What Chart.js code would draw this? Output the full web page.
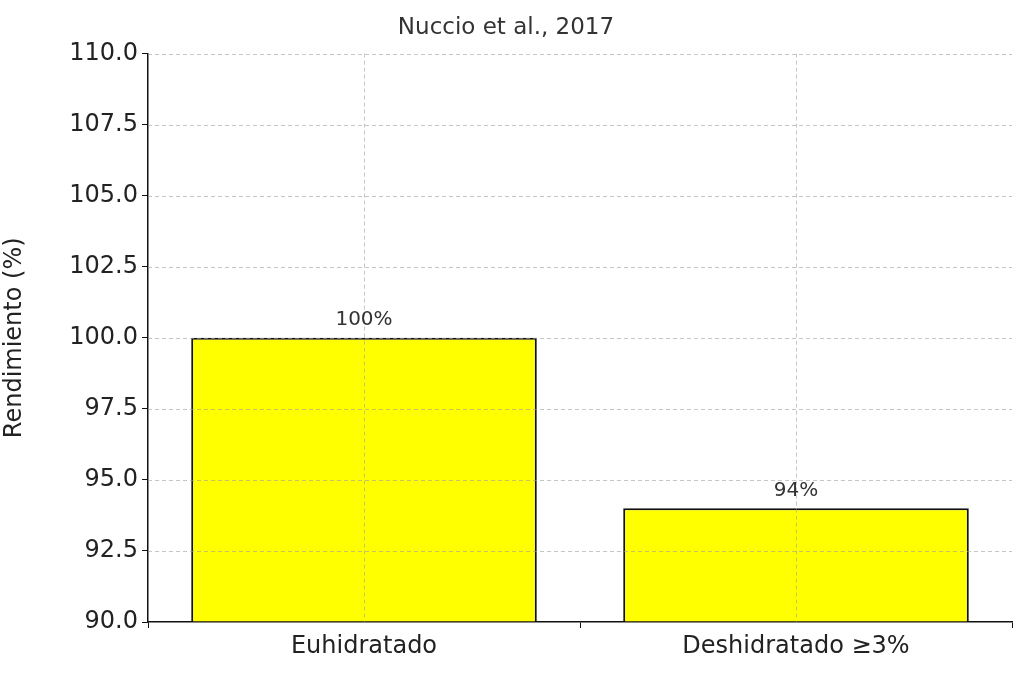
<!DOCTYPE html>
<html><head><meta charset="utf-8">
<script src="https://cdn.jsdelivr.net/npm/chart.js@4"></script>
<style>html,body{margin:0;background:#fff}#w{width:1024px;height:677px}</style>
</head><body><div id="w"><canvas id="c"></canvas></div>
<script>
const categories = ["Euhidratado", "Deshidratado ≥3%"];
const values = [100, 94];
const valueLabels = ["100%", "94%"];
const titleText = "Nuccio et al., 2017";
const yTitle = "Rendimiento (%)";

const F = "'DejaVu Sans', sans-serif";
const overlay = {
  id: 'overlay',
  afterDatasetsDraw(chart) {
    const {ctx, chartArea: a, scales: {x, y}} = chart;
    ctx.save();
    ctx.strokeStyle = 'rgba(160,160,160,0.6)';
    ctx.lineWidth = 1;
    ctx.setLineDash([4, 3]);
    categories.forEach((c, i) => {
      const px = Math.round(x.getPixelForValue(i)) + 0.5;
      ctx.beginPath(); ctx.moveTo(px, a.top); ctx.lineTo(px, a.bottom); ctx.stroke();
    });
    y.ticks.forEach(t => {
      if (t.value <= 90) return;
      const py = Math.round(y.getPixelForValue(t.value)) + 0.5;
      ctx.beginPath(); ctx.moveTo(a.left, py); ctx.lineTo(a.right, py); ctx.stroke();
    });
    ctx.setLineDash([]);
    ctx.fillStyle = '#333';
    ctx.font = "20px " + F;
    ctx.textAlign = 'center'; ctx.textBaseline = 'bottom';
    const meta = chart.getDatasetMeta(0);
    meta.data.forEach((b, i) => ctx.fillText(valueLabels[i], b.x, b.y - 8));
    ctx.restore();
  }
};
new Chart(document.getElementById('c'), {
  type: 'bar',
  data: { labels: categories, datasets: [{ data: values, backgroundColor: '#ffff00', borderColor: '#111', borderWidth: 2, barPercentage: 0.8, categoryPercentage: 1.0, base: 90 }] },
  options: {
    responsive: true, maintainAspectRatio: false, animation: false,
    layout: { padding: { left: 0, right: 12, top: 0, bottom: 0 } },
    plugins: {
      legend: { display: false }, tooltip: { enabled: false },
      title: { display: true, text: titleText, color: '#333', font: { family: F, size: 23, weight: 'normal' }, padding: { top: 14, bottom: 12 } }
    },
    scales: {
      x: {
        grid: { display: true, drawOnChartArea: false, drawTicks: true, tickLength: 6, tickColor: '#111' },
        border: { color: '#111', width: 1.5 },
        ticks: { color: '#222', font: { family: F, size: 24 }, padding: 4 },
        afterFit(s) { s.height = 55; }
      },
      y: {
        min: 90, max: 110,
        border: { color: '#111', width: 1.5 },
        grid: { drawOnChartArea: false, tickColor: '#111', tickLength: 6 },
        ticks: { stepSize: 2.5, color: '#222', font: { family: F, size: 24 }, callback: v => v.toFixed(1), padding: 4 },
        title: { display: true, text: yTitle, color: '#222', font: { family: F, size: 24 }, padding: { top: 0, bottom: 4 } },
        afterFit(s) { s.width = 148; }
      }
    }
  },
  plugins: [overlay]
});
</script></body></html>
